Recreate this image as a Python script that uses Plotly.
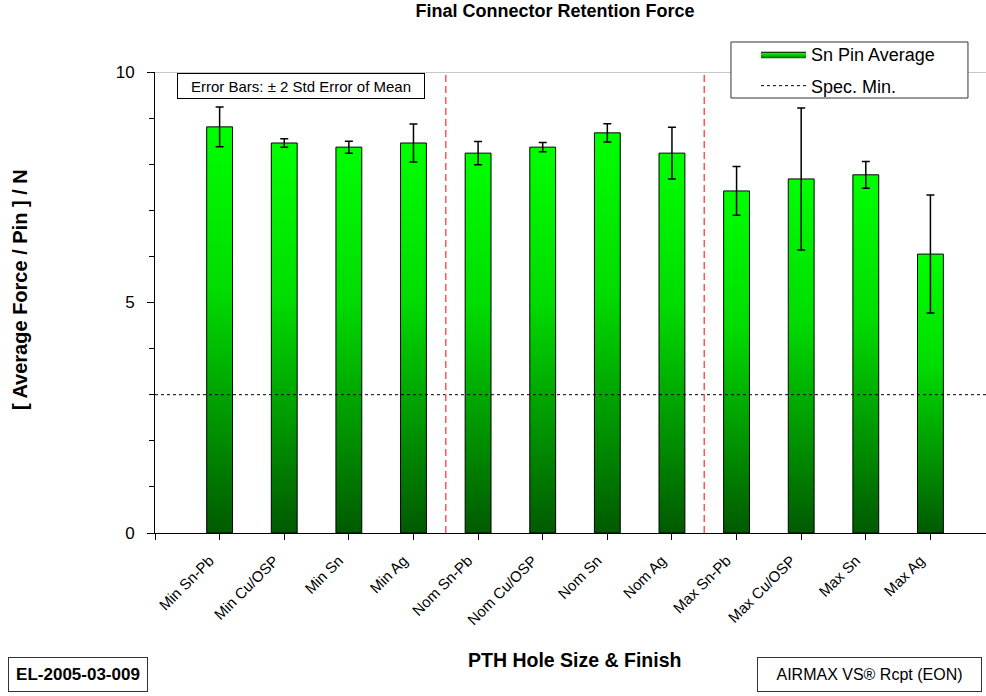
import plotly.graph_objects as go

categories = ["Min Sn-Pb", "Min Cu/OSP", "Min Sn", "Min Ag",
              "Nom Sn-Pb", "Nom Cu/OSP", "Nom Sn", "Nom Ag",
              "Max Sn-Pb", "Max Cu/OSP", "Max Sn", "Max Ag"]
avg_force = [8.81, 8.46, 8.37, 8.46, 8.24, 8.37, 8.68, 8.24, 7.42, 7.68, 7.77, 6.05]
err_2se = [0.43, 0.09, 0.13, 0.41, 0.25, 0.10, 0.20, 0.56, 0.53, 1.54, 0.29, 1.28]
spec_min = 3.0
group_size = 4
y_ticks = [0, 5, 10]

FONT = "Arial, Liberation Sans, sans-serif"
BAR_W = 0.4
X_MAX = 12.86

fig = go.Figure()

xs = list(range(1, len(categories) + 1))
for i, (x, v) in enumerate(zip(xs, avg_force)):
    fig.add_trace(go.Scatter(
        x=[x - BAR_W / 2, x - BAR_W / 2, x + BAR_W / 2, x + BAR_W / 2, x - BAR_W / 2],
        y=[0, v, v, 0, 0],
        mode="lines", fill="toself",
        fillgradient=dict(type="vertical",
                          colorscale=[[0, "#005a00"], [0.6, "#00dc00"], [1, "#00ff00"]]),
        line=dict(color="black", width=1),
        name="Sn Pin Average", legendgroup="bars",
        showlegend=(i == 0), hoverinfo="skip",
    ))

fig.add_trace(go.Scatter(
    x=xs, y=avg_force, mode="markers",
    marker=dict(opacity=0, size=1),
    error_y=dict(type="data", array=err_2se, color="black", thickness=1.5, width=4),
    showlegend=False, hoverinfo="skip",
))

fig.add_trace(go.Scatter(
    x=[0, X_MAX], y=[spec_min, spec_min], mode="lines",
    line=dict(color="black", width=1, dash="3px,3px"),
    name="Spec. Min.", legendgroup="spec",
))

shapes = []
for b in range(group_size, len(categories), group_size):
    shapes.append(dict(type="line", xref="x", yref="y", x0=b + 0.5, x1=b + 0.5,
                       y0=0, y1=10, line=dict(color="#ff5555", width=1.5, dash="7px,4px")))
shapes.append(dict(type="line", xref="paper", yref="y", x0=0, x1=1, y0=10, y1=10,
                   line=dict(color="#909090", width=1), layer="below"))
# legend frame
shapes.append(dict(type="rect", xref="paper", yref="paper", x0=0.6931, x1=0.9783,
                   y0=0.9436, y1=1.0651, fillcolor="white",
                   line=dict(color="#333333", width=1), layer="above"))

annotations = [
    dict(text="Error Bars: ± 2 Std Error of Mean", xref="paper", yref="paper",
         x=0.1757, y=0.9707, xanchor="center", yanchor="middle", showarrow=False,
         font=dict(family=FONT, size=15, color="black"),
         bordercolor="black", borderwidth=1, bgcolor="white", width=244, height=22),
    dict(text="<b>[ Average Force / Pin ] / N</b>", xref="paper", yref="paper",
         x=-0.1625, y=0.529, xanchor="center", yanchor="middle", textangle=-90, showarrow=False,
         font=dict(family=FONT, size=20, color="black")),
    dict(text="<b>PTH Hole Size & Finish</b>", xref="paper", yref="paper",
         x=0.5054, y=-0.2755, xanchor="center", yanchor="middle", showarrow=False,
         font=dict(family=FONT, size=19.5, color="black")),
    dict(text="<b>EL-2005-03-009</b>", xref="paper", yref="paper",
         x=-0.0927, y=-0.307, xanchor="center", yanchor="middle", showarrow=False,
         font=dict(family=FONT, size=17, color="black"),
         bordercolor="#333333", borderwidth=1, width=136, height=31),
    dict(text="AIRMAX VS® Rcpt (EON)", xref="paper", yref="paper",
         x=0.8598, y=-0.307, xanchor="center", yanchor="middle", showarrow=False,
         font=dict(family=FONT, size=16, color="black"),
         bordercolor="#333333", borderwidth=1, width=221, height=31),
]

fig.update_layout(
    width=986, height=696,
    margin=dict(l=155, r=0, t=72, b=163, autoexpand=False),
    paper_bgcolor="white", plot_bgcolor="white",
    font=dict(family=FONT, size=12, color="black"),
    title=dict(text="<b>Final Connector Retention Force</b>", x=0.563, y=0.985,
               xanchor="center", yanchor="middle",
               font=dict(family=FONT, size=18, color="black")),
    showlegend=True,
    legend=dict(x=0.7232, y=1.078, xanchor="left", yanchor="top",
                bgcolor="rgba(0,0,0,0)", borderwidth=0,
                font=dict(family=FONT, size=18, color="black"),
                traceorder="grouped", tracegroupgap=5, itemwidth=45),
    xaxis=dict(range=[0, X_MAX], tickvals=[0] + xs, ticktext=[""] + categories,
               tickangle=-45, ticks="outside", ticklen=6, tickcolor="black",
               showline=True, linecolor="black", linewidth=1, showgrid=False,
               zeroline=False, ticklabelshift=-10, ticklabelstandoff=6,
               tickfont=dict(family=FONT, size=15, color="black")),
    yaxis=dict(range=[0, 10], tickvals=y_ticks, ticks="outside", ticklen=7,
               tickcolor="black", showline=True, linecolor="black", linewidth=1,
               showgrid=False, zeroline=False, ticklabelstandoff=9,
               minor=dict(dtick=1, ticks="outside", ticklen=5, tickcolor="black"),
               tickfont=dict(family=FONT, size=17, color="black")),
    shapes=shapes, annotations=annotations,
)

fig.write_html("out.html", config={"displayModeBar": False},
               post_script="document.body.style.margin='0px';")
